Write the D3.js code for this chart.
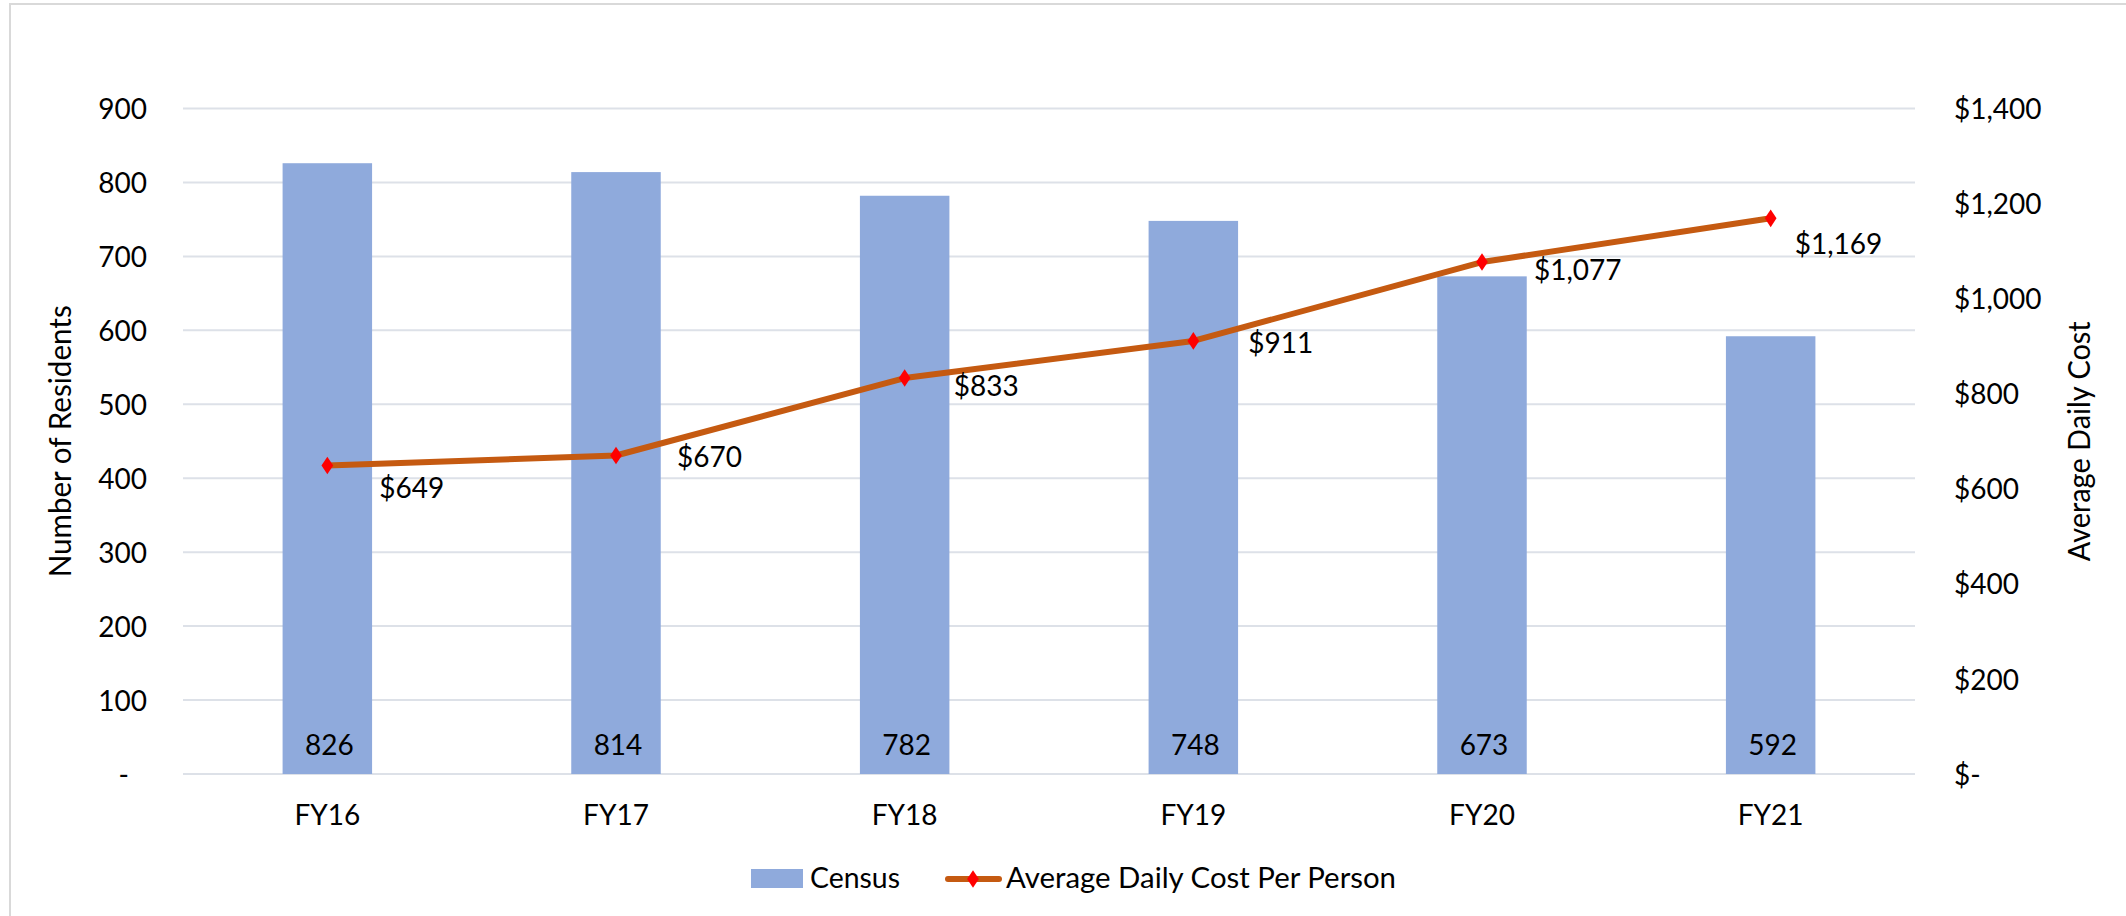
<!DOCTYPE html>
<html>
<head>
<meta charset="utf-8">
<script src="https://cdn.jsdelivr.net/npm/d3@7"></script>
<style>
  html, body { margin: 0; padding: 0; background: #fff; }
  svg text { font-family: Lato, "Open Sans", sans-serif; fill: #000; }
</style>
</head>
<body>
<svg id="chart" width="2126" height="916"></svg>
<script>
// ---- data ----
const categories = ["FY16", "FY17", "FY18", "FY19", "FY20", "FY21"];
const census = [826, 814, 782, 748, 673, 592];
const avgDailyCost = [649, 670, 833, 911, 1077, 1169];
const leftTicks = [0, 100, 200, 300, 400, 500, 600, 700, 800, 900];
const rightTicks = [0, 200, 400, 600, 800, 1000, 1200, 1400];
const seriesNames = ["Census", "Average Daily Cost Per Person"];
const axisTitles = ["Number of Residents", "Average Daily Cost"];

// ---- layout (not data) ----
const costLabelOffsets = [[52, 33], [61, 11], [49, 18], [55, 12], [52, 18], [24, 36]];
const plot = { left: 183, right: 1915, top: 108.5, bottom: 774 };
const FS = 28;

const svg = d3.select("#chart");

// outer border (only top & left visible in reference)
svg.append("rect")
  .attr("x", 10).attr("y", 4)
  .attr("width", 2200).attr("height", 1000)
  .attr("fill", "none").attr("stroke", "#D9D9D9").attr("stroke-width", 2);

const x = d3.scaleBand().domain(categories)
  .range([plot.left, plot.right]).paddingInner(0.69).paddingOuter(0.345);
const yL = d3.scaleLinear().domain([0, 900]).range([plot.bottom, plot.top]);
const yR = d3.scaleLinear().domain([0, 1400]).range([plot.bottom, plot.top]);

// gridlines
svg.append("g").selectAll("line").data(leftTicks).join("line")
  .attr("x1", plot.left).attr("x2", plot.right)
  .attr("y1", d => yL(d)).attr("y2", d => yL(d))
  .attr("stroke", "#DDE1E8").attr("stroke-width", 2);

// left axis
const leftAxis = svg.append("g").attr("transform", `translate(${plot.left - 36},0)`)
  .call(d3.axisLeft(yL).tickValues(leftTicks).tickSize(0).tickPadding(0)
    .tickFormat(d => d === 0 ? "-" : d3.format(",")(d)));
leftAxis.select(".domain").remove();
leftAxis.selectAll("text").attr("font-size", FS).attr("fill", "#000")
  .attr("font-family", "Lato, sans-serif")
  .attr("dy", "0.36em")
  .attr("dx", d => d === 0 ? -18 : 0);

// right axis
const rightAxis = svg.append("g").attr("transform", `translate(${plot.right + 39},0)`)
  .call(d3.axisRight(yR).tickValues(rightTicks).tickSize(0).tickPadding(0)
    .tickFormat(d => d === 0 ? "$-" : d3.format("$,")(d)));
rightAxis.select(".domain").remove();
rightAxis.selectAll("text").attr("font-size", FS).attr("fill", "#000")
  .attr("font-family", "Lato, sans-serif").attr("dy", "0.36em");

// bottom axis labels
const bottomAxis = svg.append("g").attr("transform", `translate(0,${plot.bottom})`)
  .call(d3.axisBottom(x).tickSize(0).tickPadding(0));
bottomAxis.select(".domain").remove();
bottomAxis.selectAll("text").attr("font-size", FS).attr("fill", "#000")
  .attr("font-family", "Lato, sans-serif").attr("dy", 51);

// axis titles
svg.append("text").attr("transform", `translate(71,${(plot.top + plot.bottom) / 2}) rotate(-90)`)
  .attr("text-anchor", "middle").attr("font-size", 30)
  .attr("textLength", 272).attr("lengthAdjust", "spacingAndGlyphs").text(axisTitles[0]);
svg.append("text").attr("transform", `translate(2090,${(plot.top + plot.bottom) / 2}) rotate(-90)`)
  .attr("text-anchor", "middle").attr("font-size", 30)
  .attr("textLength", 240).attr("lengthAdjust", "spacingAndGlyphs").text(axisTitles[1]);

// bars
const data = categories.map((c, i) => ({ c, census: census[i], cost: avgDailyCost[i], i }));
svg.append("g").selectAll("rect").data(data).join("rect")
  .attr("x", d => x(d.c)).attr("width", x.bandwidth())
  .attr("y", d => yL(d.census)).attr("height", d => yL(0) - yL(d.census))
  .attr("fill", "#8FAADC");

// bar labels
svg.append("g").selectAll("text").data(data).join("text")
  .attr("x", d => x(d.c) + x.bandwidth() / 2 + 2)
  .attr("y", plot.bottom - 19)
  .attr("text-anchor", "middle").attr("font-size", FS)
  .text(d => d3.format(",")(d.census));

// line
const cx = d => x(d.c) + x.bandwidth() / 2;
svg.append("path").datum(data)
  .attr("d", d3.line().x(cx).y(d => yR(d.cost)))
  .attr("fill", "none").attr("stroke", "#C55A11").attr("stroke-width", 6)
  .attr("stroke-linejoin", "round").attr("stroke-linecap", "round");

const diamond = d3.symbol().type(d3.symbolDiamond).size(90);
svg.append("g").selectAll("path").data(data).join("path")
  .attr("transform", d => `translate(${cx(d)},${yR(d.cost)}) scale(1.15,1)`)
  .attr("d", diamond).attr("fill", "#FF0000");

// line labels
svg.append("g").selectAll("text").data(data).join("text")
  .attr("x", d => cx(d) + costLabelOffsets[d.i][0])
  .attr("y", d => yR(d.cost) + costLabelOffsets[d.i][1])
  .attr("font-size", FS)
  .text(d => d3.format("$,")(d.cost));

// legend
const lg = svg.append("g");
lg.append("rect").attr("x", 751).attr("y", 869).attr("width", 52).attr("height", 19).attr("fill", "#8FAADC");
lg.append("text").attr("x", 810).attr("y", 888).attr("font-size", 29)
  .attr("textLength", 90).attr("lengthAdjust", "spacingAndGlyphs").text(seriesNames[0]);
lg.append("line").attr("x1", 948).attr("x2", 999).attr("y1", 879).attr("y2", 879)
  .attr("stroke", "#C55A11").attr("stroke-width", 6).attr("stroke-linecap", "round");
lg.append("path").attr("transform", "translate(973,879) scale(1.15,1)").attr("d", diamond).attr("fill", "#FF0000");
lg.append("text").attr("x", 1006).attr("y", 888).attr("font-size", 29)
  .attr("textLength", 390).attr("lengthAdjust", "spacingAndGlyphs").text(seriesNames[1]);
</script>
</body>
</html>
